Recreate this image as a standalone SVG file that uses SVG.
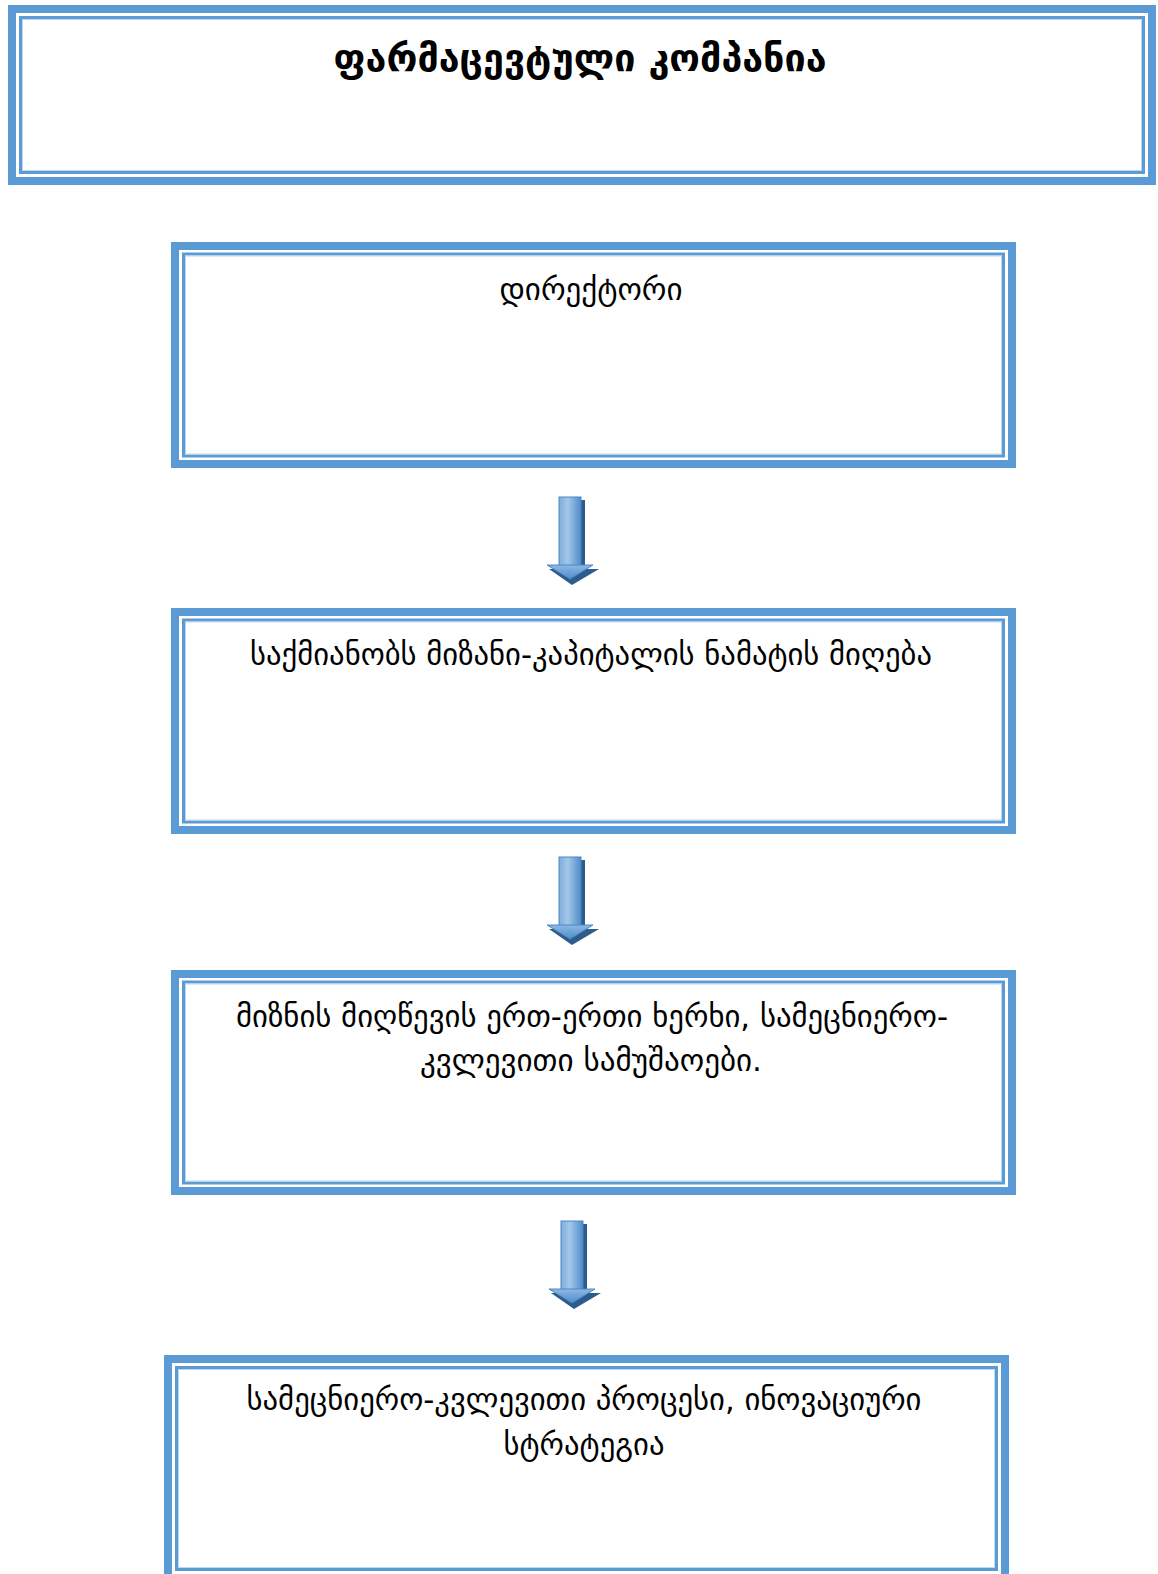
<svg xmlns="http://www.w3.org/2000/svg" width="1158" height="1574" viewBox="0 0 1158 1574">
  <style>
    .frame { fill: none; stroke: #5B9BD5; stroke-width: 8; }
    .rule { fill: none; stroke: #5B9BD5; stroke-width: 3; }
    .rule-in { fill: none; stroke: #BDD7EE; stroke-width: 1; }
    .label { font-family: "DejaVu Sans", "Noto Sans", sans-serif; font-size: 30px; fill: #000; text-anchor: middle; }
    .title { font-weight: bold; font-size: 37px; }
  </style>
  <defs>
    <linearGradient id="shaftFill" x1="0" y1="0" x2="1" y2="0">
      <stop offset="0" stop-color="#7FAEDF"/>
      <stop offset="0.4" stop-color="#A3C7E8"/>
      <stop offset="1" stop-color="#4F8CCB"/>
    </linearGradient>
    <linearGradient id="headFill" x1="0" y1="0" x2="0" y2="1">
      <stop offset="0" stop-color="#8DB8E4"/>
      <stop offset="1" stop-color="#4F8CCB"/>
    </linearGradient>
    <g id="downArrow">
      <!-- drop shadow -->
      <polygon points="4,3 26,3 26,72 40,72 13,88 -10,72 4,72" fill="#2E5C8A"/>
      <!-- shaft -->
      <rect x="0" y="0" width="22" height="69" fill="url(#shaftFill)" stroke="#4A86C5" stroke-width="1"/>
      <!-- head -->
      <polygon points="-12,68 34,68 11,82" fill="url(#headFill)" stroke="#4A86C5" stroke-width="1"/>
    </g>
  </defs>

  <g id="company">
    <rect class="frame" x="12" y="9" width="1140" height="172"/>
    <rect class="rule" x="20.5" y="17.5" width="1123" height="155"/>
    <rect class="rule-in" x="22.5" y="19.5" width="1119" height="151"/>
    <text class="label title" x="580" y="71" textLength="493" lengthAdjust="spacingAndGlyphs">ფარმაცევტული კომპანია</text>
  </g>

  <g id="director">
    <rect class="frame" x="175" y="246" width="837" height="218"/>
    <rect class="rule" x="183.5" y="254" width="820" height="202"/>
    <rect class="rule-in" x="185.5" y="256" width="816" height="198"/>
    <text class="label" x="591" y="300" textLength="183" lengthAdjust="spacingAndGlyphs">დირექტორი</text>
  </g>

  <g id="goal">
    <rect class="frame" x="175" y="612" width="837" height="218"/>
    <rect class="rule" x="183.5" y="620" width="820" height="202"/>
    <rect class="rule-in" x="185.5" y="622" width="816" height="198"/>
    <text class="label" x="591" y="665" textLength="682" lengthAdjust="spacingAndGlyphs">საქმიანობს მიზანი-კაპიტალის ნამატის მიღება</text>
  </g>

  <g id="method">
    <rect class="frame" x="175" y="974" width="837" height="217"/>
    <rect class="rule" x="183.5" y="982" width="820" height="201"/>
    <rect class="rule-in" x="185.5" y="984" width="816" height="197"/>
    <text class="label" x="592" y="1027" textLength="712" lengthAdjust="spacingAndGlyphs">მიზნის მიღწევის ერთ-ერთი ხერხი, სამეცნიერო-</text>
    <text class="label" x="591" y="1071" textLength="342" lengthAdjust="spacingAndGlyphs">კვლევითი სამუშაოები.</text>
  </g>

  <g id="research">
    <rect class="frame" x="168" y="1359" width="837" height="222"/>
    <rect class="rule" x="176.5" y="1367.5" width="820" height="202"/>
    <rect class="rule-in" x="178.5" y="1369.5" width="816" height="198"/>
    <text class="label" x="584" y="1410" textLength="675" lengthAdjust="spacingAndGlyphs">სამეცნიერო-კვლევითი პროცესი, ინოვაციური</text>
    <text class="label" x="584" y="1455" textLength="161" lengthAdjust="spacingAndGlyphs">სტრატეგია</text>
  </g>

  <g id="connectors">
    <use href="#downArrow" x="559" y="497"/>
    <use href="#downArrow" x="559" y="857"/>
    <use href="#downArrow" x="561" y="1221"/>
  </g>
</svg>
